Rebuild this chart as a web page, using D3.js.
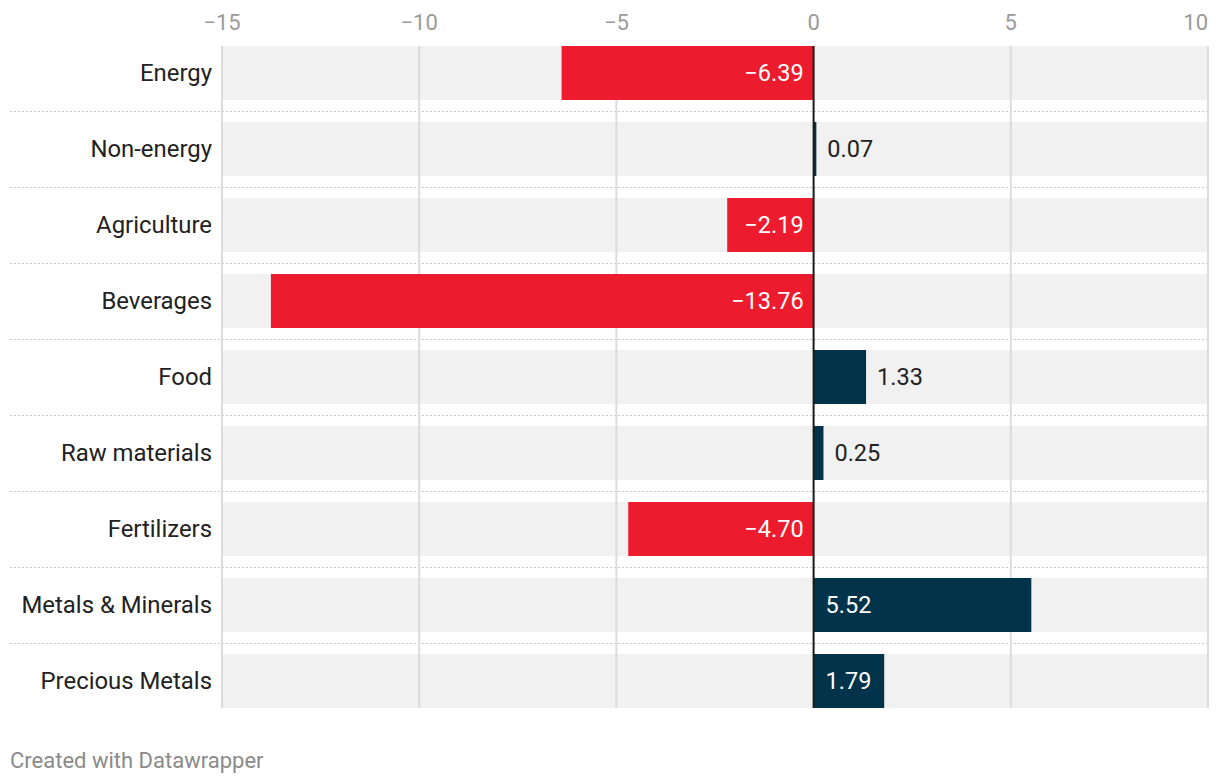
<!DOCTYPE html>
<html><head><meta charset="utf-8">
<script src="https://cdn.jsdelivr.net/npm/d3@7"></script>
<style>
body{margin:0;background:#fff;font-family:Roboto,"Noto Sans",sans-serif;}
</style></head>
<body><svg id="c" width="1220" height="784"></svg>
<script>
const categories = ["Energy","Non-energy","Agriculture","Beverages","Food","Raw materials","Fertilizers","Metals & Minerals","Precious Metals"];
const values = [-6.39, 0.07, -2.19, -13.76, 1.33, 0.25, -4.70, 5.52, 1.79];
const labels = ["\u22126.39","0.07","\u22122.19","\u221213.76","1.33","0.25","\u22124.70","5.52","1.79"];
const insideLabel = [true,false,true,true,false,false,true,true,true];
const ticks = [-15,-10,-5,0,5,10];
const tickLabels = ["\u221215","\u221210","\u22125","0","5","10"];

(function(){
const svg = d3.select("#c");
const x = d3.scaleLinear().domain([-15,10]).range([222,1208]);
const y = d3.scaleBand().domain(categories).range([35,719]).paddingInner(22/76).paddingOuter(11/76);
const RED="#ec1c2e", NAVY="#01344a";

// dotted separators
svg.append("g").selectAll("line").data(categories.slice(1)).join("line")
  .attr("x1",10).attr("x2",1208)
  .attr("y1",d=>Math.round(y(d)-11)+0.5).attr("y2",d=>Math.round(y(d)-11)+0.5)
  .attr("stroke","#c8c8c8").attr("stroke-width",1.2).attr("stroke-dasharray","2,2");

// background rows
svg.append("g").selectAll("rect").data(categories).join("rect")
  .attr("x",x(-15)).attr("width",x(10)-x(-15))
  .attr("y",d=>y(d)).attr("height",y.bandwidth()).attr("fill","#f1f1f1");

// gridlines
const yTop = y(categories[0]), yBot = y(categories[categories.length-1])+y.bandwidth();
svg.append("g").selectAll("line").data(ticks.filter(t=>t!==0)).join("line")
  .attr("x1",d=>x(d)).attr("x2",d=>x(d)).attr("y1",yTop).attr("y2",yBot)
  .attr("stroke","#dcdcdc").attr("stroke-width",2);

// tick labels
svg.append("g").selectAll("text").data(ticks).join("text")
  .attr("x",d=>x(d)).attr("y",30)
  .attr("text-anchor",(d,i)=> i===ticks.length-1 ? "end" : "middle")
  .attr("font-size",22).attr("fill","#9a9a9a").text((d,i)=>tickLabels[i]);

// bars
svg.append("g").selectAll("rect").data(values).join("rect")
  .attr("x",d=>x(Math.min(0,d))).attr("width",d=>Math.abs(x(d)-x(0)))
  .attr("y",(d,i)=>y(categories[i])).attr("height",y.bandwidth())
  .attr("fill",d=>d<0?RED:NAVY);

// zero line
svg.append("line").attr("x1",x(0)).attr("x2",x(0)).attr("y1",yTop).attr("y2",yBot)
  .attr("stroke","#1a1a1a").attr("stroke-width",2);

// category labels
svg.append("g").selectAll("text").data(categories).join("text")
  .attr("x",212).attr("y",d=>y(d)+y.bandwidth()/2).attr("dy","0.32em")
  .attr("text-anchor","end").attr("font-size",23.9).attr("fill","#222").text(d=>d);

// value labels
svg.append("g").selectAll("text").data(values).join("text")
  .attr("x",(d,i)=> d<0 ? x(0)-10 : (insideLabel[i] ? x(0)+12 : x(d)+11))
  .attr("y",(d,i)=>y(categories[i])+y.bandwidth()/2).attr("dy","0.32em")
  .attr("text-anchor",d=>d<0?"end":"start")
  .attr("font-size",23.5)
  .attr("fill",(d,i)=>insideLabel[i]?"#fff":"#222")
  .text((d,i)=>labels[i]);

svg.append("text").attr("x",10).attr("y",768).attr("font-size",22).attr("fill","#8a8a8a")
  .text("Created with Datawrapper");
})();
</script></body></html>
